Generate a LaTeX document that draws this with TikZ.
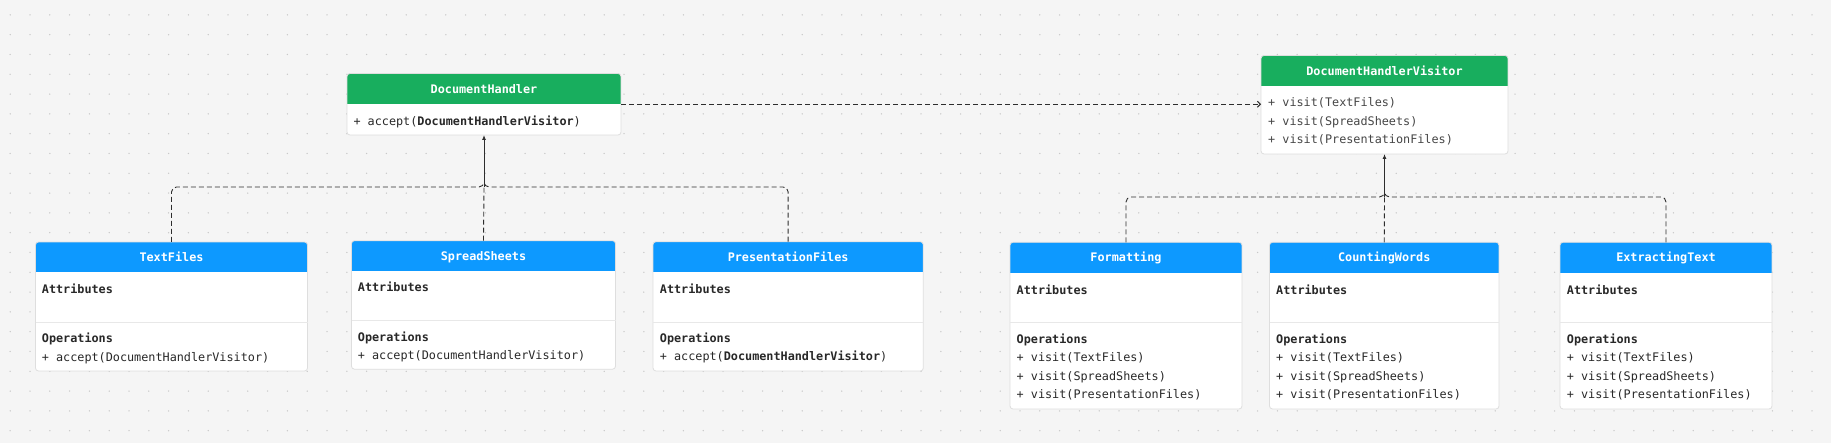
\documentclass[tikz,border=0pt]{standalone}
\usepackage{fontspec}
\setmonofont{DejaVu Sans Mono}
\usetikzlibrary{arrows.meta,calc}
\definecolor{bg}{RGB}{245,245,245}
\definecolor{dotc}{RGB}{200,200,200}
\definecolor{hgreen}{RGB}{24,174,94}
\definecolor{hblue}{RGB}{13,153,255}
\definecolor{bline}{RGB}{222,222,222}
\definecolor{dline}{RGB}{232,232,232}
\definecolor{txtc}{RGB}{40,40,40}
\definecolor{txtl}{RGB}{70,70,70}
\definecolor{conc}{RGB}{45,45,45}
\newcommand\umlbox[8]{%
  \node[boxshape, minimum width=#4pt, minimum height=#5pt] (#1) at (#2,#3) {};
  \begin{scope}
    \clip[rounded corners=3pt] (#1.north west) rectangle (#1.south east);
    \fill[#7] (#1.north west) rectangle ($(#1.north east)+(0,#6)$);
  \end{scope}
  \draw[bline, line width=0.8pt, rounded corners=3pt] (#1.north west) rectangle (#1.south east);
  \node[titletxt] at ($(#1.north)+(0,#6/2+4.3)$) {#8};
}
\newcommand\umldiv[2]{\draw[dline, line width=0.8pt] (#1.west |- 0,#2) -- (#1.east |- 0,#2);}
\newcommand\umltxt[3]{\node[linetxt] at (#1,#2+4.3) {#3};}
\begin{document}
\begin{tikzpicture}[x=1pt,y=-1pt,
  font=\ttfamily\fontsize{11.8}{14}\selectfont,
  boxshape/.style={rectangle, anchor=north west, fill=white, rounded corners=3pt, inner sep=0pt, outer sep=0pt},
  titletxt/.style={anchor=base, inner sep=0pt, text=white, font=\ttfamily\bfseries\fontsize{11.8}{14}\selectfont},
  linetxt/.style={anchor=base west, inner sep=0pt, text=txtc},
  conn/.style={draw=conc, line width=0.9pt, dash pattern=on 5pt off 3pt, rounded corners=5pt},
  solidconn/.style={draw=conc, line width=0.9pt},
  uparrow/.style={-{Latex[length=5pt,width=4pt]}},
  openarrow/.style={-{Straight Barb[length=3pt,width=6pt]}}
]
\useasboundingbox (0,0) rectangle (1831,443);
\fill[bg] (0,0) rectangle (1831,443);
\foreach \i in {0,...,92}{\foreach \j in {0,...,22}{\fill[dotc] (10.2+19.8*\i,14.9+19.8*\j) circle (0.75);}}

% boxes
\umlbox{dh}{347}{73.5}{274}{61.5}{31}{hgreen}{DocumentHandler}
\umltxt{353.3}{121}{+ accept(\textbf{DocumentHandlerVisitor})}

\umlbox{dhv}{1261}{55.5}{247}{98.5}{30.5}{hgreen}{DocumentHandlerVisitor}
\umltxt{1268}{102.7}{\color{txtl}+ visit(TextFiles)}
\umltxt{1268}{121.3}{\color{txtl}+ visit(SpreadSheets)}
\umltxt{1268}{139.7}{\color{txtl}+ visit(PresentationFiles)}

\umlbox{tf}{35.5}{242}{272}{129}{30.5}{hblue}{TextFiles}
\umldiv{tf}{322.3}
\umltxt{41.7}{289}{\textbf{Attributes}}
\umltxt{41.7}{338.3}{\textbf{Operations}}
\umltxt{41.7}{357}{+ accept(DocumentHandlerVisitor)}

\umlbox{ss}{351.5}{240.7}{264}{128.5}{30.5}{hblue}{SpreadSheets}
\umldiv{ss}{320.8}
\umltxt{357.7}{287.5}{\textbf{Attributes}}
\umltxt{357.7}{336.8}{\textbf{Operations}}
\umltxt{357.7}{355.5}{+ accept(DocumentHandlerVisitor)}

\umlbox{pf}{653}{241.7}{270.3}{129.3}{30.6}{hblue}{PresentationFiles}
\umldiv{pf}{322.3}
\umltxt{659.7}{289}{\textbf{Attributes}}
\umltxt{659.7}{338}{\textbf{Operations}}
\umltxt{659.7}{356.7}{+ accept(\textbf{DocumentHandlerVisitor})}

\umlbox{fm}{1010}{242.3}{232}{166.7}{30.7}{hblue}{Formatting}
\umldiv{fm}{322.3}
\umltxt{1016.5}{290}{\textbf{Attributes}}
\umltxt{1016.5}{339}{\textbf{Operations}}
\umltxt{1016.5}{357.7}{+ visit(TextFiles)}
\umltxt{1016.5}{376.3}{+ visit(SpreadSheets)}
\umltxt{1016.5}{394.3}{+ visit(PresentationFiles)}

\umlbox{cw}{1269.5}{242.3}{229.5}{166.7}{30.7}{hblue}{CountingWords}
\umldiv{cw}{322.3}
\umltxt{1276}{290}{\textbf{Attributes}}
\umltxt{1276}{339}{\textbf{Operations}}
\umltxt{1276}{357.7}{+ visit(TextFiles)}
\umltxt{1276}{376.3}{+ visit(SpreadSheets)}
\umltxt{1276}{394.3}{+ visit(PresentationFiles)}

\umlbox{et}{1560}{242.3}{212}{166.7}{30.7}{hblue}{ExtractingText}
\umldiv{et}{322.3}
\umltxt{1566.7}{290}{\textbf{Attributes}}
\umltxt{1566.7}{339}{\textbf{Operations}}
\umltxt{1566.7}{357.7}{+ visit(TextFiles)}
\umltxt{1566.7}{376.3}{+ visit(SpreadSheets)}
\umltxt{1566.7}{394.3}{+ visit(PresentationFiles)}

% connectors
\coordinate (jl) at (484,187);
\coordinate (jl2) at (484,182);
\coordinate (jr) at (1384.5,197);
\coordinate (jr2) at (1384.5,192);
\draw[conn] (tf.north) -- (tf.north |- jl) -- (jl) -- (jl2);
\draw[conn] (pf.north) -- (pf.north |- jl) -- (jl) -- (jl2);
\draw[conn] (ss.north) -- (jl);
\draw[solidconn, uparrow] (jl) -- (dh.south);

\draw[conn] (fm.north) -- (fm.north |- jr) -- (jr) -- (jr2);
\draw[conn] (et.north) -- (et.north |- jr) -- (jr) -- (jr2);
\draw[conn] (cw.north) -- (jr);
\draw[solidconn, uparrow] (jr) -- (dhv.south);

\draw[conn, openarrow] (dh.east) -- (dh.east -| dhv.west);
\end{tikzpicture}
\end{document}
